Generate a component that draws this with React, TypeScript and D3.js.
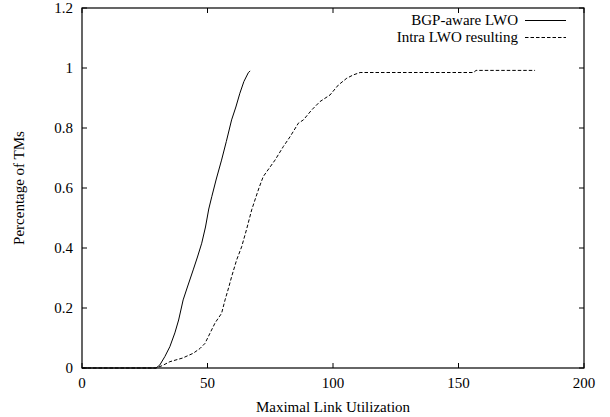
import React from "react";
import * as d3 from "d3";

const xTicks = [0, 50, 100, 150, 200];
const yTicks = [0, 0.2, 0.4, 0.6, 0.8, 1, 1.2];
const yTickLabels = ["0", "0.2", "0.4", "0.6", "0.8", "1", "1.2"];

const seriesNames = ["BGP-aware LWO", "Intra LWO resulting"];

const bgpX = [0, 29.5, 31, 33, 35, 37, 38.5, 40.3, 42, 44.3, 46, 47.7, 49.2, 50.5, 51.7, 53.5, 55.6, 57.5, 59.6, 61.3, 62.9, 64.5, 66.3, 67];
const bgpY = [0, 0, 0.01, 0.038, 0.071, 0.117, 0.16, 0.227, 0.27, 0.327, 0.37, 0.416, 0.47, 0.53, 0.571, 0.63, 0.693, 0.755, 0.827, 0.87, 0.916, 0.955, 0.985, 0.99];

const intraX = [0, 29.5, 32, 35, 40, 44.3, 47, 49, 51, 53, 55.6, 57, 58.5, 59.6, 61.6, 63.6, 65.5, 67.6, 68.9, 70.5, 72.2, 74.5, 76.9, 80.2, 82.9, 86.2, 88.2, 91.5, 94.8, 98.8, 102.1, 105.5, 108.1, 110.8, 156, 157, 180.5];
const intraY = [0, 0, 0.008, 0.021, 0.033, 0.049, 0.065, 0.082, 0.116, 0.15, 0.182, 0.227, 0.27, 0.304, 0.36, 0.404, 0.46, 0.527, 0.56, 0.6, 0.638, 0.665, 0.693, 0.738, 0.771, 0.816, 0.827, 0.86, 0.888, 0.91, 0.943, 0.966, 0.977, 0.985, 0.985, 0.992, 0.992];

const W = 610;
const H = 417;
const left = 82;
const right = 584;
const top = 8;
const bottom = 368;
const font = "'Liberation Serif', 'Times New Roman', serif";
const fs = 15;

export default function App() {
  const x = d3.scaleLinear().domain([0, 200]).range([left, right]);
  const y = d3.scaleLinear().domain([0, 1.2]).range([bottom, top]);
  const line = d3
    .line<[number, number]>()
    .x((d) => x(d[0]))
    .y((d) => y(d[1]));
  const bgp = line(bgpX.map((v, i) => [v, bgpY[i]] as [number, number])) || "";
  const intra = line(intraX.map((v, i) => [v, intraY[i]] as [number, number])) || "";
  const tl = 5;

  return (
    <svg
      width={W}
      height={H}
      style={{ position: "absolute", left: 0, top: 0, background: "#fff" }}
      fontFamily={font}
    >
      <rect x={0} y={0} width={W} height={H} fill="#fff" />
      {xTicks.map((t) => (
        <g key={"x" + t}>
          <line x1={x(t)} x2={x(t)} y1={bottom} y2={bottom - tl} stroke="#000" />
          <line x1={x(t)} x2={x(t)} y1={top} y2={top + tl} stroke="#000" />
          <text x={x(t)} y={388} textAnchor="middle" fontSize={fs}>
            {t}
          </text>
        </g>
      ))}
      {yTicks.map((t, i) => (
        <g key={"y" + t}>
          <line x1={left} x2={left + tl} y1={y(t)} y2={y(t)} stroke="#000" />
          <line x1={right} x2={right - tl} y1={y(t)} y2={y(t)} stroke="#000" />
          <text x={73} y={y(t) + 5} textAnchor="end" fontSize={fs}>
            {yTickLabels[i]}
          </text>
        </g>
      ))}
      <path d={bgp} fill="none" stroke="#000" strokeWidth={1} />
      <path d={intra} fill="none" stroke="#000" strokeWidth={1} strokeDasharray="3.5,2" />
      <rect
        x={left}
        y={top}
        width={right - left}
        height={bottom - top}
        fill="none"
        stroke="#000"
        strokeWidth={1.2}
      />
      <text x={518} y={25} textAnchor="end" fontSize={fs}>
        {seriesNames[0]}
      </text>
      <line x1={525} x2={566} y1={20.5} y2={20.5} stroke="#000" />
      <text x={518} y={42} textAnchor="end" fontSize={fs}>
        {seriesNames[1]}
      </text>
      <line x1={525} x2={566} y1={37.5} y2={37.5} stroke="#000" strokeDasharray="3.5,2" />
      <text x={(left + right) / 2} y={412} textAnchor="middle" fontSize={fs}>
        Maximal Link Utilization
      </text>
      <text
        transform={`translate(24, ${(top + bottom) / 2}) rotate(-90)`}
        textAnchor="middle"
        fontSize={fs}
      >
        Percentage of TMs
      </text>
    </svg>
  );
}
